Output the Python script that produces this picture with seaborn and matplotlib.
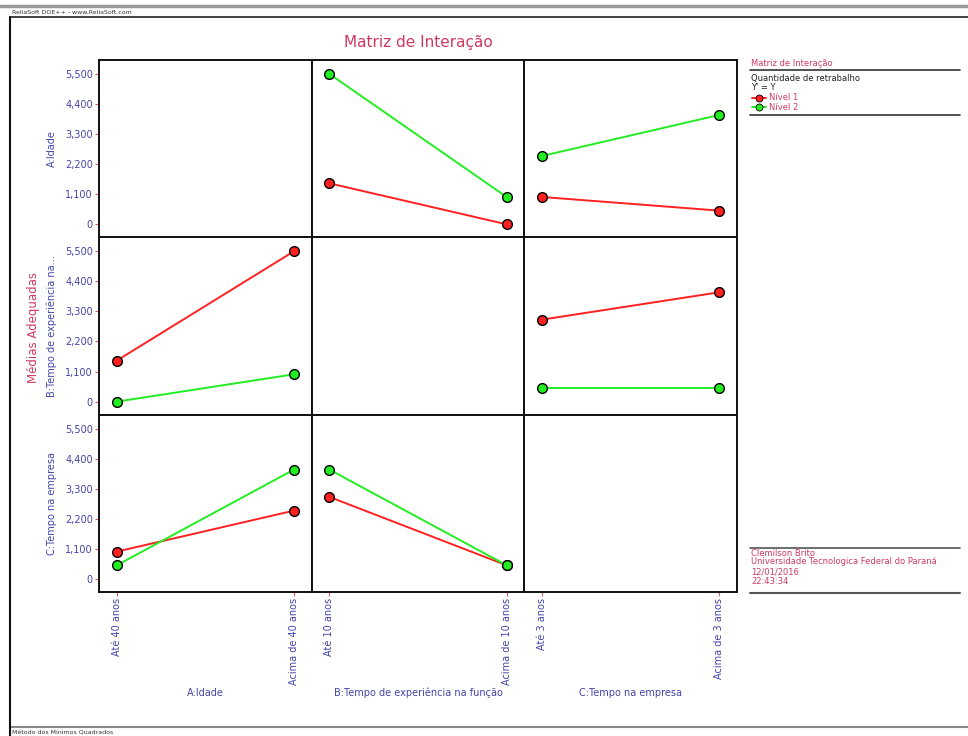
import matplotlib
matplotlib.use("Agg")
import matplotlib.pyplot as plt
from matplotlib.lines import Line2D
import seaborn as sns
import pandas as pd

# factors and their levels
factors = ["A:Idade", "B:Tempo de experiência na função", "C:Tempo na empresa"]
row_labels = ["A:Idade", "B:Tempo de experiência na...", "C:Tempo na empresa"]
levels = [["Até 40 anos", "Acima de 40 anos"],
          ["Até 10 anos", "Acima de 10 anos"],
          ["Até 3 anos", "Acima de 3 anos"]]

# two-way cell means (rows = first factor level, cols = second factor level)
mean_AB = [[1500, 0], [5500, 1000]]
mean_AC = [[1000, 500], [2500, 4000]]
mean_BC = [[3000, 4000], [500, 500]]

y_ticks = [0, 1100, 2200, 3300, 4400, 5500]
series_names = ["Nível 1", "Nível 2"]

RED = "#ff2020"
GREEN = "#22ee22"
BLUE = "#4444a8"
CRIMSON = "#d03a62"

tables = {(0, 1): mean_AB, (0, 2): mean_AC, (1, 2): mean_BC}


def panel_data(r, c):
    # lines = levels of row factor r, x = levels of column factor c
    if (r, c) in tables:
        t = tables[(r, c)]
        vals = [[t[i][j] for j in range(2)] for i in range(2)]
    else:
        t = tables[(c, r)]
        vals = [[t[j][i] for j in range(2)] for i in range(2)]
    rows = []
    for i in range(2):
        for j in range(2):
            rows.append({"x": j, "y": vals[i][j], "nivel": series_names[i]})
    return pd.DataFrame(rows)


sns.set_style("white")
plt.rcParams["font.family"] = ["DejaVu Sans"]

fig, axes = plt.subplots(3, 3, figsize=(9.68, 7.36), dpi=100)
fig.subplots_adjust(left=0.1023, right=0.7614, top=0.9185, bottom=0.1957,
                    wspace=0, hspace=0)

for r in range(3):
    for c in range(3):
        ax = axes[r, c]
        if r != c:
            df = panel_data(r, c)
            sns.lineplot(data=df, x="x", y="y", hue="nivel",
                         palette={"Nível 1": RED, "Nível 2": GREEN},
                         marker="o", markersize=7, markeredgecolor="black",
                         markeredgewidth=1.0, linewidth=1.4, legend=False, ax=ax)
        ax.set_xlim(-0.1, 1.1)
        ax.set_ylim(-475, 6010)
        ax.set_xlabel("")
        ax.set_ylabel("")
        for sp in ax.spines.values():
            sp.set_color("#111111")
            sp.set_linewidth(1.4)
        ax.set_yticks(y_ticks)
        ax.set_xticks([0, 1])
        if c == 0:
            ax.set_yticklabels([f"{v:,}" for v in y_ticks])
            ax.tick_params(axis="y", length=3, color="#e06060", labelsize=7,
                           labelcolor=BLUE, left=True, pad=1.5)
            ax.set_ylabel(row_labels[r], fontsize=7, color=BLUE)
            ax.yaxis.set_label_coords(-0.197, 0.5)
        else:
            ax.tick_params(axis="y", left=False, labelleft=False)
        if r == 2:
            ax.set_xticklabels(levels[c], rotation=90, va="top")
            ax.tick_params(axis="x", length=3, color="#e06060", labelsize=7,
                           labelcolor=BLUE, bottom=True, pad=1.5)
            ax.set_xlabel(factors[c], fontsize=7, color=BLUE)
            ax.xaxis.set_label_coords(0.5, -0.54)
        else:
            ax.tick_params(axis="x", bottom=False, labelbottom=False)

# titles
fig.text(418 / 968, 1 - 42 / 736, "Matriz de Interação", fontsize=11,
         color=CRIMSON, ha="center", va="center")
fig.text(33 / 968, 1 - 327 / 736, "Médias Adequadas", fontsize=8.5,
         color=CRIMSON, rotation=90, ha="center", va="center")


def fy(py):
    return 1 - py / 736


def fx(px):
    return px / 968


def hline(py, x0, x1, color="#333333", lw=1.2):
    fig.add_artist(Line2D([fx(x0), fx(x1)], [fy(py), fy(py)],
                          color=color, lw=lw, transform=fig.transFigure))


# page frame
hline(6, 0, 968, color="#999999", lw=2.5)
hline(17, 10, 968, color="#222222", lw=1.2)
hline(727, 10, 968, color="#888888", lw=1.5)
fig.add_artist(Line2D([fx(10), fx(10)], [fy(17), fy(736)], color="#111111",
                      lw=1.5, transform=fig.transFigure))
fig.text(fx(12), fy(12), "ReliaSoft DOE++ - www.ReliaSoft.com", fontsize=4.5,
         color="#333333", va="center")
fig.text(fx(12), fy(733), "Método dos Mínimos Quadrados", fontsize=4.5,
         color="#333333", va="center")

# legend block
hline(70, 750, 960)
fig.text(fx(751), fy(64), "Matriz de Interação", fontsize=6, color=CRIMSON, va="center")
fig.text(fx(751), fy(79), "Quantidade de retrabalho", fontsize=6, color="#222222", va="center")
fig.text(fx(751), fy(88), "Y' = Y", fontsize=6, color="#222222", va="center")
for py, name, col in [(98, "Nível 1", RED), (107, "Nível 2", GREEN)]:
    fig.add_artist(Line2D([fx(752), fx(766)], [fy(py), fy(py)], color=col, lw=1.4,
                          transform=fig.transFigure))
    fig.add_artist(Line2D([fx(759)], [fy(py)], color=col, marker="o", markersize=5,
                          markeredgecolor="black", markeredgewidth=0.6,
                          transform=fig.transFigure))
    fig.text(fx(769), fy(py), name, fontsize=6, color=CRIMSON, va="center")
hline(115, 750, 960)

# author block
hline(548, 750, 960, color="#555555")
for py, txt in [(553, "Clemilson Brito"),
                (562, "Universidade Tecnologica Federal do Paraná"),
                (572, "12/01/2016"), (582, "22:43:34")]:
    fig.text(fx(751), fy(py), txt, fontsize=6, color=CRIMSON, va="center")
hline(593, 750, 960, color="#555555", lw=1.5)

fig.savefig("out.png", dpi=100)
